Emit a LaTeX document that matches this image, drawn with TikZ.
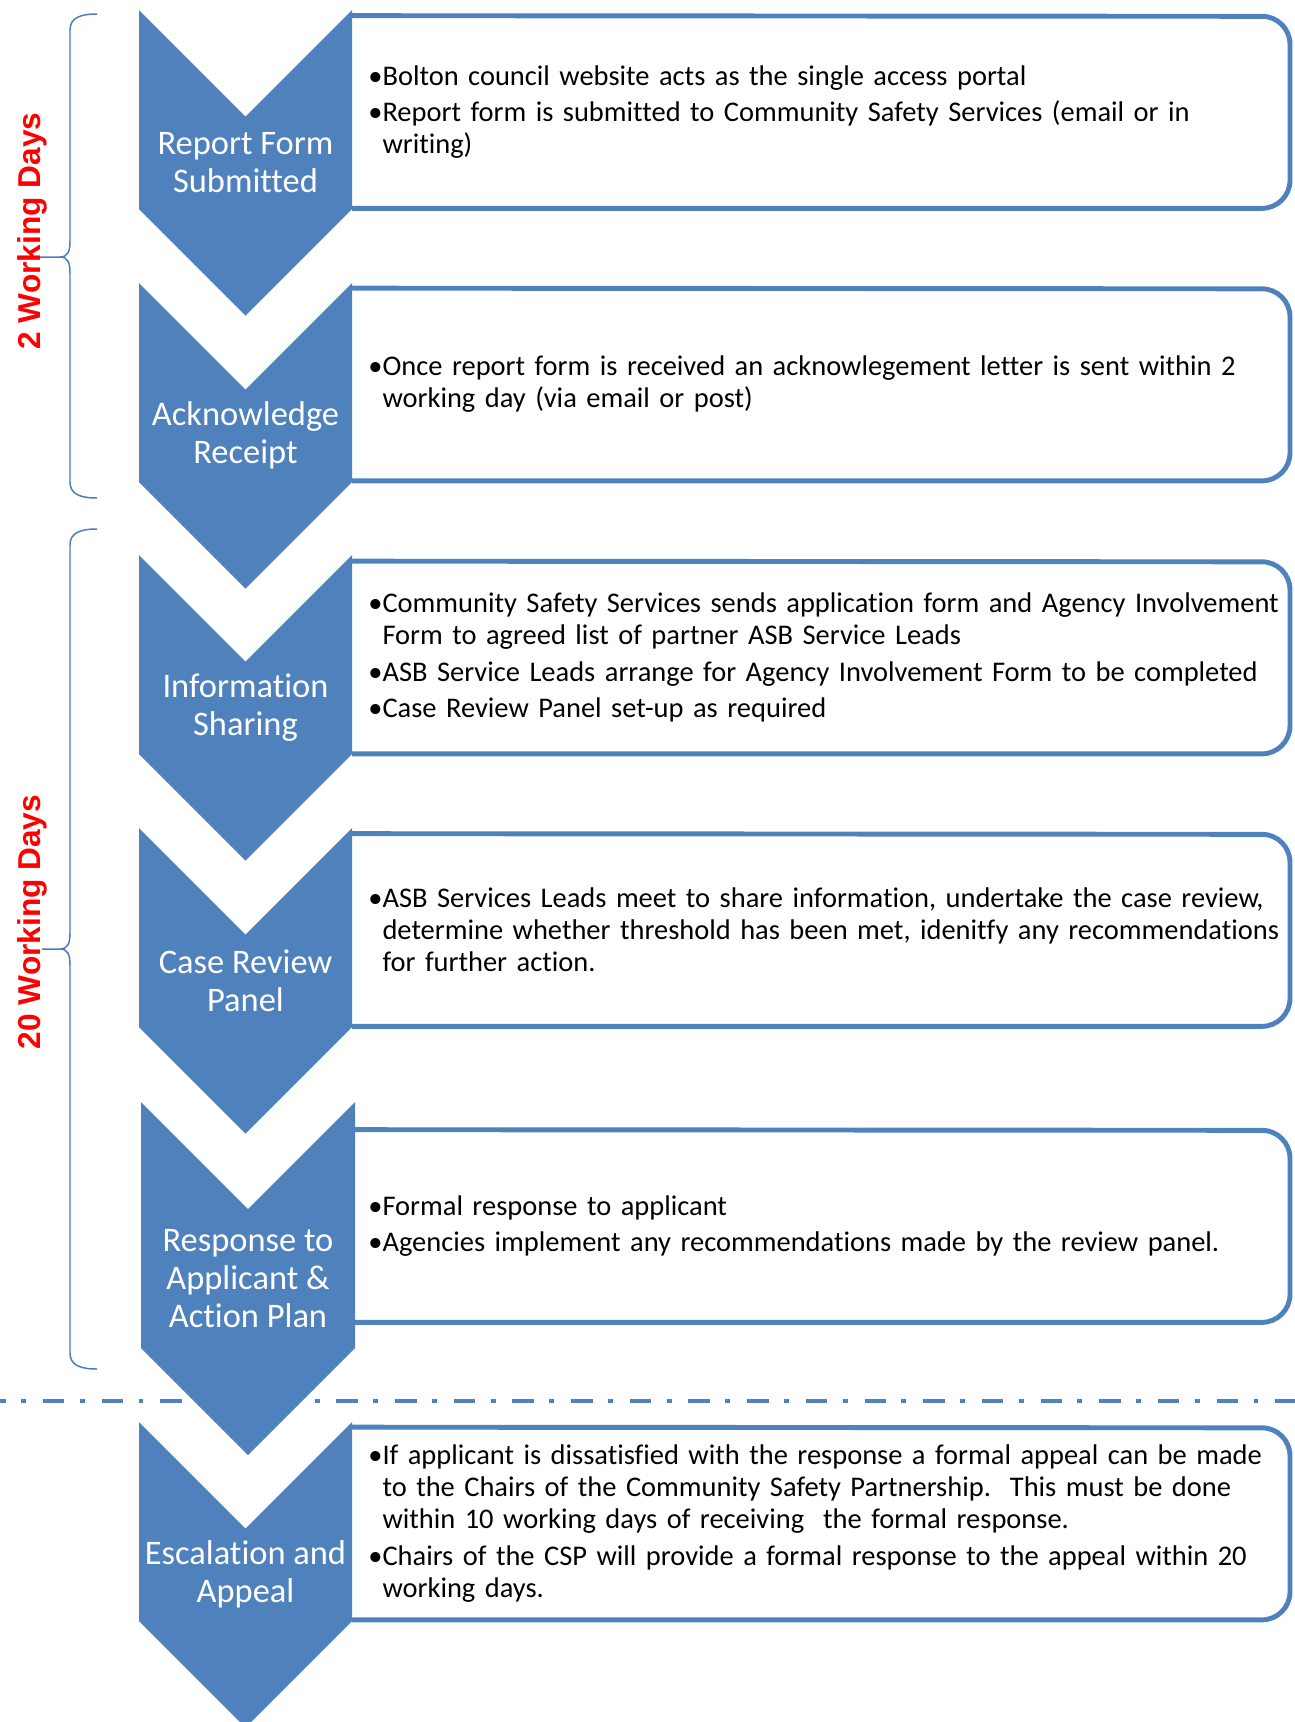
\documentclass[tikz,border=0pt]{standalone}
\usepackage{fontspec}
\setmainfont{Carlito}[Ligatures=NoCommon]
\newfontfamily\daysfont{Liberation Sans}
\usetikzlibrary{positioning}
\definecolor{chevblue}{HTML}{4F81BD}
\definecolor{braceblue}{HTML}{4A7EBB}

\begin{document}
\begin{tikzpicture}[
  x=0.02cm, y=-0.02cm,
  stage/.style={fill=chevblue},
  stagetext/.style={text=white, align=center, font=\fontsize{19.6}{21.5}\selectfont},
  infobox/.style={anchor=west, minimum height=3.84cm, text width=18.6cm, inner xsep=0.32cm, inner ysep=0pt, align=left, font=\fontsize{16.2}{18.2}\selectfont},
  boxline/.style={draw=chevblue, line width=2.8pt, rounded corners=5.6mm},
  bracket/.style={draw=braceblue, line width=0.85pt},
  days/.style={text=red, font=\daysfont\bfseries\fontsize{18}{21}\selectfont, rotate=90, anchor=base},
  cutline/.style={draw=chevblue, line width=2.3pt, dash pattern=on 12.2pt off 8.8pt on 2.8pt off 9.6pt}
]
\useasboundingbox (0,0) rectangle (1295,1722);

% text boxes
\node[infobox] (b1) at (352,112) {•Bolton council website acts as the single access portal\\[2.8pt]
•Report form is submitted to Community Safety Services (email or in\\
\hphantom{•}writing)};
\node[infobox] (b2) at (352,384.5) {•Once report form is received an acknowlegement letter is sent within 2\\
\hphantom{•}working day (via email or post)};
\node[infobox] (b3) at (352,657.5) {•Community Safety Services sends application form and Agency Involvement\\
\hphantom{•}Form to agreed list of partner ASB Service Leads\\[2.8pt]
•ASB Service Leads arrange for Agency Involvement Form to be completed\\[2.8pt]
•Case Review Panel set-up as required};
\node[infobox] (b4) at (352,930) {•ASB Services Leads meet to share information, undertake the case review,\\
\hphantom{•}determine whether threshold has been met, idenitfy any recommendations\\
\hphantom{•}for further action.};
\node[infobox] (b5) at (352,1226) {•Formal response to applicant\\[2.8pt]
•Agencies implement any recommendations made by the review panel.};
\node[infobox] (b6) at (352,1523.5) {•If applicant is dissatisfied with the response a formal appeal can be made\\
\hphantom{•}to the Chairs of the Community Safety Partnership.\ \ This must be done\\
\hphantom{•}within 10 working days of receiving\ \ the formal response.\\[2.8pt]
•Chairs of the CSP will provide a formal response to the appeal within 20\\
\hphantom{•}working days.};

\foreach \b in {b1,b2,b3,b4,b5,b6}
  \draw[boxline] (\b.south west) -- ++(938,0) -- ++(0,-192) -- (\b.north west);

% chevrons
\fill[stage] (139,10) -- ++(106.5,106.5) -- ++(106.5,-106.5) -- ++(0,199) -- ++(-106.5,106.5) -- ++(-106.5,-106.5) -- cycle;
\fill[stage] (139,283) -- ++(106.5,106.5) -- ++(106.5,-106.5) -- ++(0,199) -- ++(-106.5,106.5) -- ++(-106.5,-106.5) -- cycle;
\fill[stage] (139,555) -- ++(106.5,106.5) -- ++(106.5,-106.5) -- ++(0,199) -- ++(-106.5,106.5) -- ++(-106.5,-106.5) -- cycle;
\fill[stage] (139,828) -- ++(106.5,106.5) -- ++(106.5,-106.5) -- ++(0,199) -- ++(-106.5,106.5) -- ++(-106.5,-106.5) -- cycle;
\fill[stage] (141,1102) -- ++(107,107) -- ++(107,-107) -- ++(0,246) -- ++(-107,107) -- ++(-107,-107) -- cycle;
\fill[stage] (139,1422) -- ++(106.5,106.5) -- ++(106.5,-106.5) -- ++(0,199) -- ++(-106.5,106.5) -- ++(-106.5,-106.5) -- cycle;

\node[stagetext] (s1) at (245.5,162.5) {Report Form\\Submitted};
\node[stagetext] (s2) at (245.5,435.5) {Acknowledge\\Receipt};
\node[stagetext] (s3) at (245.5,707.5) {Information\\Sharing};
\node[stagetext] (s4) at (245.5,980.5) {Case Review\\Panel};
\node[stagetext] (s5) at (248,1278.5) {Response to\\Applicant \&\\Action Plan};
\node[stagetext] (s6) at (245.5,1574.5) {Escalation and\\Appeal};

% separator
\coordinate (cutL) at (-15.7,1401);
\coordinate (cutR) at (1295,1401);
\draw[cutline] (cutL) -- (cutR);

% braces and day counts
\draw[bracket] (97,14) .. controls (80,14) and (70,18) .. (70,30) -- (70,241)
  .. controls (70,251) and (68,257) .. (60,257) -- (37,257) -- (60,257)
  .. controls (68,257) and (70,263) .. (70,273) -- (70,482)
  .. controls (70,494) and (80,498) .. (97,498);
\draw[bracket] (97,529) .. controls (80,529) and (70,533) .. (70,545) -- (70,933)
  .. controls (70,943) and (68,949) .. (60,949) -- (42,949) -- (60,949)
  .. controls (68,949) and (70,955) .. (70,965) -- (70,1353)
  .. controls (70,1365) and (80,1369) .. (97,1369);

\node[days] (d1) at (40,231) {2 Working Days};
\node[days] (d2) at (40,922) {20 Working Days};

\end{tikzpicture}
\end{document}
